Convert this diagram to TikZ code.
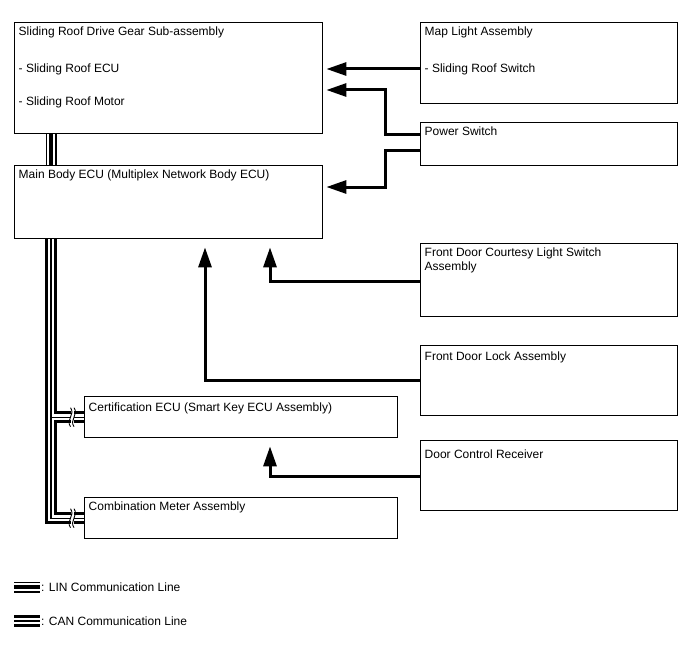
\documentclass[tikz,border=0pt]{standalone}
\usepackage{fontspec}
\setmainfont{Liberation Sans}
\usepackage{tikz}
\usetikzlibrary{arrows.meta, backgrounds}

\newcommand{\boxtxt}[3]{\parbox[t][#2pt][t]{#1pt}{\raggedright #3}}

\begin{document}
\begin{tikzpicture}[x=1pt, y=-1pt,
    unitbox/.style={draw, line width=1.4pt, anchor=north west,
        inner xsep=4pt, inner ysep=4.5pt,
        font=\fontsize{12}{14}\selectfont},
    sig/.style={line width=3pt, shorten >=3pt,
        -{Triangle[length=20pt, width=13pt]}},
    sigup/.style={sig, shorten >=8pt},
    linbus/.style={line width=4pt,
        preaction={draw, line width=11pt},
        preaction={draw, white, line width=8pt}},
    canbus/.style={line width=1.3pt,
        preaction={draw, line width=11.5pt},
        preaction={draw, white, line width=6pt}},
    keytxt/.style={anchor=west, inner sep=1pt,
        font=\fontsize{12}{14}\selectfont}]
  \useasboundingbox (0,0) rectangle (688,658);

  % left column
  \node[unitbox] (roof) at (14,22) {\boxtxt{300}{102}{Sliding Roof Drive Gear Sub-assembly\\[23pt]
      - Sliding Roof ECU\\[19pt]- Sliding Roof Motor}};
  \node[unitbox] (main) at (14,165) {\boxtxt{300}{64}{Main Body ECU (Multiplex Network Body ECU)}};
  \node[unitbox] (cert) at (84,396) {\boxtxt{305}{32}{\vspace*{2pt}Certification ECU (Smart Key ECU Assembly)}};
  \node[unitbox] (comb) at (84,497) {\boxtxt{305}{32}{Combination Meter Assembly}};

  % right column
  \node[unitbox] (map) at (420,22) {\boxtxt{249}{72}{Map Light Assembly\\[23pt]- Sliding Roof Switch}};
  \node[unitbox] (power) at (420,122) {\boxtxt{249}{34}{Power Switch}};
  \node[unitbox] (courtesy) at (420,243) {\boxtxt{249}{64}{Front Door Courtesy Light Switch\\Assembly}};
  \node[unitbox] (lock) at (420,345) {\boxtxt{249}{61}{\vspace*{2pt}Front Door Lock Assembly}};
  \node[unitbox] (receiver) at (420,440) {\boxtxt{249}{61}{\vspace*{5pt}Door Control Receiver}};

  % signal lines
  \draw[sig] (map.west |- 0,69) -- (roof.east |- 0,69);
  \draw[sig] (power.west |- 0,135) -- (385,135) |- (roof.east |- 0,90);
  \draw[sig] (power.west |- 0,151) -- (385,151) |- (main.east |- 0,187);
  \draw[sigup] (courtesy.west |- 0,281) -| (main.south -| 270,0);
  \draw[sigup] (lock.west |- 0,380) -| (main.south -| 205,0);
  \draw[sigup] (receiver.west |- 0,476) -| (cert.south -| 270,0);

  % communication lines
  \coordinate (busx) at (51,0);
  \begin{scope}[on background layer]
    \draw[linbus] (roof.south -| busx) -- (main.north -| busx);
    \draw[canbus] (main.south -| busx) |- (comb.west)
                  (busx |- cert.west) -- (cert.west);
  \end{scope}
  \foreach \n in {cert, comb} {
    \fill[white] ([xshift=-13.5pt, yshift=-7pt]\n.west) rectangle ([xshift=-10pt, yshift=7pt]\n.west);
    \draw[line width=0.9pt] ([xshift=-13.5pt, yshift=9.5pt]\n.west)
        .. controls +(5pt,-7pt) and +(-5pt,7pt) .. ([xshift=-13.5pt, yshift=-9.5pt]\n.west);
    \draw[line width=0.9pt] ([xshift=-10pt, yshift=9.5pt]\n.west)
        .. controls +(5pt,-7pt) and +(-5pt,7pt) .. ([xshift=-10pt, yshift=-9.5pt]\n.west);
  }

  % key
  \node[keytxt] (linkey) at (40,587) {: LIN Communication Line};
  \node[keytxt] (cankey) at (40,621) {: CAN Communication Line};
  \draw[linbus] (14,587) -- (linkey.west);
  \draw[canbus] (14,621) -- (cankey.west);
\end{tikzpicture}
\end{document}
